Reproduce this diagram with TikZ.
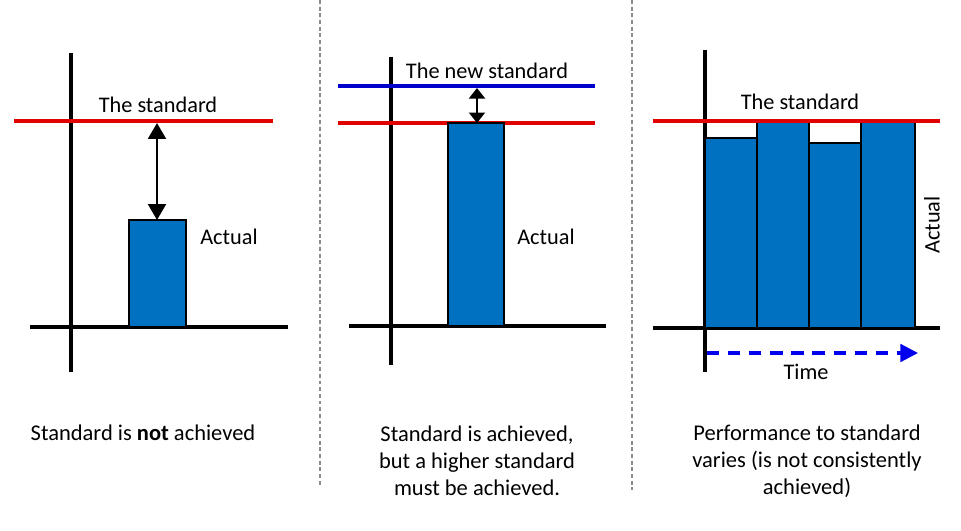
\documentclass[tikz,border=0pt]{standalone}
\usepackage{fontspec}
\setmainfont{Carlito}
\usetikzlibrary{arrows.meta,positioning}
\definecolor{barblue}{HTML}{0070C0}
\definecolor{stdred}{HTML}{E00000}
\definecolor{newblue}{HTML}{0000CC}
\definecolor{timeblue}{HTML}{0000EE}

\begin{document}
\begin{tikzpicture}[x=0.02cm,y=-0.02cm,
  axis/.style={line width=2pt,line cap=butt},
  stdline/.style={line width=2.4pt,draw=stdred},
  newline/.style={line width=2.4pt,draw=newblue},
  bar/.style={draw=black,line width=1.1pt,fill=barblue,anchor=south west,inner sep=0pt,outer sep=0pt,minimum width=#1},
  gap/.style={{Triangle[width=10pt,length=9pt]}-{Triangle[width=10pt,length=9pt]},line width=1.7pt},
  sep/.style={draw=gray!90,line width=0.6pt,dash pattern=on 2.2pt off 1.6pt},
  lbl/.style={font=\fontsize{12.7}{15}\selectfont,inner sep=1pt},
  captxt/.style={font=\fontsize{12.8}{15.5}\selectfont,align=center,inner sep=1pt}]
\useasboundingbox (0,0) rectangle (961,531);

% separators
\draw[sep] (320,0) -- (320,487);
\draw[sep] (632,0) -- (632,490);

% panel 1
\draw[axis] (71,53) -- (71,372);
\draw[axis] (30,327) -- (288,327);
\draw[stdline] (14,121) -- (273,121);
\node[bar=1.14cm,minimum height=2.14cm] (act1) at (129,327) {};
\coordinate (std1) at (157,123);
\draw[gap] (std1) -- (act1.north -| std1);
\node[lbl] (stdlbl1) at (158,105) {The standard};
\node[lbl] (actlbl1) at (229,237) {Actual};
\node[captxt] (cap1) at (143,433) {Standard is \textbf{not} achieved};

% panel 2
\draw[axis] (391,57) -- (391,365);
\draw[axis] (349,326) -- (606,326);
\draw[newline] (338,86) -- (595,86);
\draw[stdline] (338,123) -- (595,123);
\node[bar=1.12cm,minimum height=4.06cm] (act2) at (448,326) {};
\coordinate (new2) at (477,88);
\draw[gap,{Triangle[width=9pt,length=6pt]}-{Triangle[width=9pt,length=6pt]}] (new2) -- (act2.north -| new2);
\node[lbl] (stdlbl2) at (487,71) {The new standard};
\node[lbl] (actlbl2) at (546,237) {Actual};
\node[captxt] (cap2) at (477,461) {Standard is achieved,\\but a higher standard\\must be achieved.};

% panel 3
\draw[axis] (705,50) -- (705,372);
\draw[axis] (653,328) -- (940,328);
\node[bar=1.04cm,minimum height=3.80cm] (b1) at (705,328) {};
\node[bar=1.04cm,minimum height=4.12cm] (b2) at (b1.south east) {};
\node[bar=1.04cm,minimum height=3.70cm] (b3) at (b2.south east) {};
\node[bar=1.08cm,minimum height=4.12cm] (b4) at (b3.south east) {};
\draw[stdline] (653,121) -- (940,121);
\node[lbl] (stdlbl3) at (800,102) {The standard};
\node[lbl,rotate=90] (actlbl3) at (932,225) {Actual};
\coordinate (t0) at (707,353);
\coordinate (t1) at (918,353);
\draw[timeblue,line width=1.8pt,dash pattern=on 7pt off 5pt,-{Triangle[width=10pt,length=10pt]}] (t0) -- (t1);
\node[lbl] (timelbl) at (806,372) {Time};
\node[captxt] (cap3) at (807,461) {Performance to standard\\varies (is not consistently\\achieved)};
\end{tikzpicture}
\end{document}
